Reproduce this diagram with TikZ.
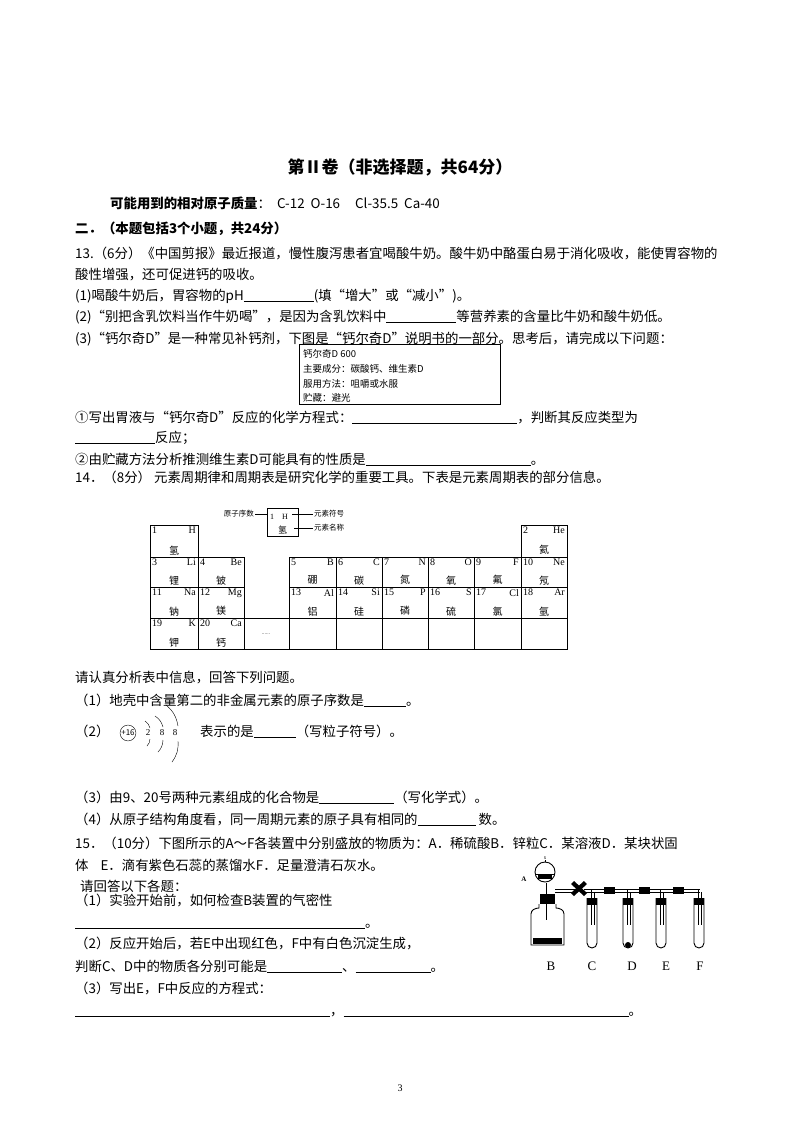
\documentclass[tikz,border=0pt]{standalone}
\usepackage{fontspec}
\setmainfont{Noto Sans CJK SC}
\newfontfamily\lat{Liberation Serif}
\newcommand{\blank}[1]{\underline{\hspace{#1pt}}}
\begin{document}
\begin{tikzpicture}[x=1pt,y=-1pt,
  t/.style={anchor=base west,inner sep=0pt,font=\fontsize{13.4}{15}\selectfont},
  s/.style={anchor=base west,inner sep=0pt,font=\fontsize{9.5}{11}\selectfont},
  cell/.style={draw,line width=0.6pt}]
\useasboundingbox (0,0) rectangle (800,1132);
\node[anchor=base,inner sep=0pt,font=\fontsize{17}{20}\selectfont\bfseries] (title) at (400,173) {第Ⅱ卷（非选择题，共64分）};
\node[t] (m) at (110,208) {\textbf{可能用到的相对原子质量}：\ \ C-12\ \ O-16\ \ \ \ \ Cl-35.5\ \ Ca-40};
\node[t] (e) at (75,233) {\textbf{二．（本题包括3个小题，共24分）}};
\node[t] (q13) at (75,258) {13.（6分）《中国剪报》最近报道，慢性腹泻患者宜喝酸牛奶。酸牛奶中酪蛋白易于消化吸收，能使胃容物的};
\node[t] (q13b) at (75,279) {酸性增强，还可促进钙的吸收。};
\node[t] (q131) at (75,300) {(1)喝酸牛奶后，胃容物的pH\blank{70}(填“增大”或“减小”)。};
\node[t] (q132) at (75,321) {(2)“别把含乳饮料当作牛奶喝”，是因为含乳饮料中\blank{70}等营养素的含量比牛奶和酸牛奶低。};
\node[t] (q133) at (75,343) {(3)“钙尔奇D”是一种常见补钙剂，下图是“钙尔奇D”说明书的一部分。思考后，请完成以下问题：};
\draw[line width=0.7pt] (299,344) rectangle (500,404);
\node[s] (b1) at (303,357) {钙尔奇D 600};
\node[s] (b2) at (303,372) {主要成分：碳酸钙、维生素D};
\node[s] (b3) at (303,387) {服用方法：咀嚼或水服};
\node[s] (b4) at (303,401) {贮藏：避光};
\node[t] (c1) at (75,422) {①写出胃液与“钙尔奇D”反应的化学方程式：\blank{165}，判断其反应类型为};
\node[t] (c1b) at (75,442) {\blank{80}反应；};
\node[t] (c2) at (75,464) {②由贮藏方法分析推测维生素D可能具有的性质是\blank{165}。};
\node[t] (q14) at (75,482) {14．（8分）\ 元素周期律和周期表是研究化学的重要工具。下表是元素周期表的部分信息。};
% legend
\draw[cell] (267,508) rectangle (298,536);
\node[s,font=\lat\fontsize{8}{8}\selectfont] (l1) at (270,519) {1\ \ \ \ H};
\node[s,font=\fontsize{9}{9}\selectfont] (l2) at (278,533) {氢};
\node[anchor=east,inner sep=1pt,font=\fontsize{7.5}{8}\selectfont] (la) at (255,514) {原子序数};
\draw (la.east) -- (267,514);
\node[anchor=west,inner sep=1pt,font=\fontsize{7.5}{8}\selectfont] (lb) at (313,514) {元素符号};
\node[anchor=west,inner sep=1pt,font=\fontsize{7.5}{8}\selectfont] (lc) at (313,528) {元素名称};
\draw (292,514) -- (lb.west);
\draw (294,528) -- (lc.west);
% table
\def\xs{{150,198,244,289,336,382,428,474,521,567}}
\def\ys{{525,557,587,618,649}}
\newcommand{\elem}[5]{% col,row,num,sym,name
  \pgfmathsetmacro{\xa}{\xs[#1]}\pgfmathsetmacro{\xb}{\xs[#1+1]}
  \pgfmathsetmacro{\ya}{\ys[#2]}\pgfmathsetmacro{\yb}{\ys[#2+1]}
  \draw[cell] (\xa,\ya) rectangle (\xb,\yb);
  \node[anchor=north west,inner sep=2pt,font=\lat\fontsize{10}{10}\selectfont] at (\xa,\ya) {#3};
  \node[anchor=north east,inner sep=2pt,font=\lat\fontsize{10}{10}\selectfont] at (\xb,\ya) {#4};
  \node[anchor=south,inner sep=2pt,font=\fontsize{10}{10}\selectfont] at ({(\xa+\xb)/2},\yb) {#5};}
\elem{0}{0}{1}{H}{氢}\elem{8}{0}{2}{He}{氦}
\elem{0}{1}{3}{Li}{锂}\elem{1}{1}{4}{Be}{铍}\elem{3}{1}{5}{B}{硼}\elem{4}{1}{6}{C}{碳}\elem{5}{1}{7}{N}{氮}\elem{6}{1}{8}{O}{氧}\elem{7}{1}{9}{F}{氟}\elem{8}{1}{10}{Ne}{氖}
\elem{0}{2}{11}{Na}{钠}\elem{1}{2}{12}{Mg}{镁}\elem{3}{2}{13}{Al}{铝}\elem{4}{2}{14}{Si}{硅}\elem{5}{2}{15}{P}{磷}\elem{6}{2}{16}{S}{硫}\elem{7}{2}{17}{Cl}{氯}\elem{8}{2}{18}{Ar}{氩}
\elem{0}{3}{19}{K}{钾}\elem{1}{3}{20}{Ca}{钙}\elem{3}{3}{}{}{}\elem{4}{3}{}{}{}\elem{5}{3}{}{}{}\elem{6}{3}{}{}{}\elem{7}{3}{}{}{}\elem{8}{3}{}{}{}
\draw[cell] (244,618) rectangle (289,649);
\node[font=\tiny,inner sep=0pt] (dots) at (266,634) {......};
% questions 14
\node[t] (r0) at (75,682) {请认真分析表中信息，回答下列问题。};
\node[t] (r1) at (75,705) {（1）地壳中含量第二的非金属元素的原子序数是\blank{42}。};
\node[t] (r2) at (75,736) {（2）};
\node[draw,circle,inner sep=0.5pt,font=\fontsize{8}{8}\selectfont] (nuc) at (128,733) {+16};
\node[font=\lat\fontsize{9}{9}\selectfont] (n1) at (148,733) {2};
\node[font=\lat\fontsize{9}{9}\selectfont] (n2) at (162,733) {8};
\node[font=\lat\fontsize{9}{9}\selectfont] (n3) at (175,733) {8};
\draw (145,721) to[bend left=20] (150,728);
\draw (150,739) to[bend left=20] (147,746);
\draw (155,716) to[bend left=20] (163,727);
\draw (163,740) to[bend left=20] (158,752);
\draw (166,705) to[bend left=20] (178,726);
\draw (178,741) to[bend left=20] (172,762);
\node[t] (r2b) at (200,736) {表示的是\blank{42}（写粒子符号）。};
\node[t] (r3) at (75,802) {（3）由9、20号两种元素组成的化合物是\blank{75}（写化学式）。};
\node[t] (r4) at (75,824) {（4）从原子结构角度看，同一周期元素的原子具有相同的\blank{58}\ 数。};
\node[t] (q15) at (75,848) {15．（10分）下图所示的A～F各装置中分别盛放的物质为：A．稀硫酸B．锌粒C．某溶液D．某块状固};
\node[t] (q15b) at (75,870) {体\ \ \ \ E．滴有紫色石蕊的蒸馏水F．足量澄清石灰水。};
\node[t] (p0) at (80,891) {请回答以下各题：};
\node[t] (p1) at (75,905) {（1）实验开始前，如何检查B装置的气密性};
\node[t] (p1b) at (75,927) {\blank{290}。};
\node[t] (p2) at (75,948) {（2）反应开始后，若E中出现红色，F中有白色沉淀生成，};
\node[t] (p2b) at (75,971) {判断C、D中的物质各分别可能是\blank{75}、\blank{75}。};
\node[t] (p3) at (75,993) {（3）写出E，F中反应的方程式：};
\node[t] (p3b) at (75,1015) {\blank{255}，\blank{285}。};
\node[anchor=base,font=\lat\fontsize{10}{10}\selectfont] (pg) at (400,1091) {3};
% apparatus
\begin{scope}[line width=0.9pt]
\draw (539,904) -- (539,908) to[out=180,in=90] (531,914) -- (531,945) -- (564,945) -- (564,914) to[out=90,in=0] (556,908) -- (556,904);
\fill (533,938) rectangle (562,944);
\fill (540,894) rectangle (555,904);
\draw (546,894) -- (546,883);
\draw (545,872) circle (10pt);
\draw (535,874) -- (555,874);
\fill (538,875) rectangle (552,879);
\draw (545,862) -- (545,860); \node[font=\tiny,inner sep=0pt] (sA) at (545,858) {s};
\node[font=\lat\bfseries\fontsize{7}{7}\selectfont] (lA) at (524,879) {A};
\draw (546,904) -- (546,920);
\draw (555,889) -- (575,889);
\draw (555,892) -- (575,892);
\fill (571,884) -- (584,896) -- (587,893) -- (574,881) -- cycle;
\fill (574,896) -- (587,884) -- (584,881) -- (571,893) -- cycle;
\draw (584,889) -- (700,889);
\draw (584,892) -- (700,892);
\foreach \x/\n in {592/C,628/D,661/E,699/F}{
  \draw (\x-5,898) -- (\x-5,943) arc (180:360:5pt) -- (\x+5,898);
  \fill (\x-5,898) rectangle (\x+5,905);
  \draw (\x-1,889) -- (\x-1,925);
  \draw (\x+2,892) -- (\x+2,925);
}
\fill (604,887) rectangle (615,894);
\fill (639,887) rectangle (650,894);
\fill (673,887) rectangle (684,894);
\fill (628,945) circle (3pt);
\end{scope}
\foreach \x/\n in {551/B,592/C,632/D,666/E,700/F}
  \node[font=\lat\fontsize{13}{13}\selectfont] (L\n) at (\x,966) {\n};
\end{tikzpicture}
\end{document}
